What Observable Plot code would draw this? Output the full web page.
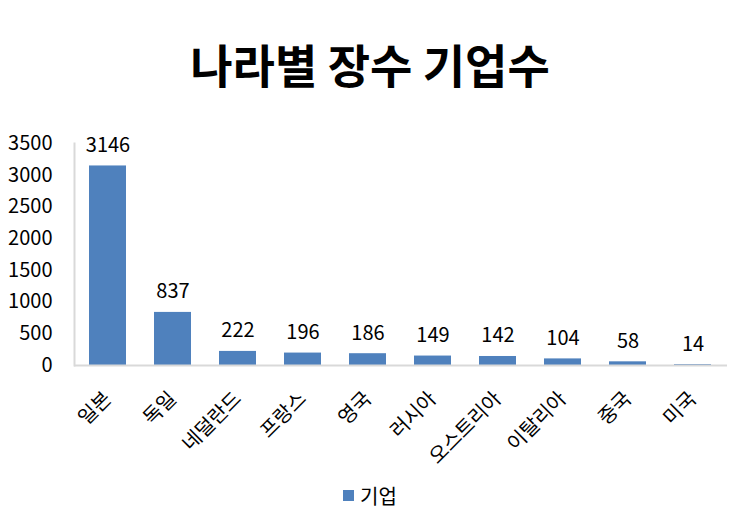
<!DOCTYPE html>
<html><head><meta charset="utf-8">
<script src="https://cdn.jsdelivr.net/npm/d3@7"></script>
<script src="https://cdn.jsdelivr.net/npm/@observablehq/plot@0.6"></script>
<style>
body{margin:0;background:#fff;font-family:"Noto Sans CJK KR","Noto Sans",sans-serif;width:740px;height:526px;overflow:hidden}
#title{height:110px;box-sizing:border-box;padding-top:28px;text-align:center;font-size:46px;font-weight:bold;color:#000;line-height:70px}
#legend{height:56px;display:flex;justify-content:center;align-items:center;font-size:20px;color:#000;padding-bottom:6px;box-sizing:border-box}
#legend span.sw{display:inline-block;width:11px;height:11px;background:#4F81BD;margin-right:6px}
</style></head>
<body>
<div id="title">나라별 장수 기업수</div>
<div id="chart"></div>
<div id="legend"><span class="sw"></span><span>기업</span></div>
<script>
const countries = ["일본","독일","네덜란드","프랑스","영국","러시아","오스트리아","이탈리아","중국","미국"];
const values = [3146,837,222,196,186,149,142,104,58,14];
const yTicks = [0,500,1000,1500,2000,2500,3000,3500];
const seriesName = "기업";

const data = countries.map((c,i)=>({country:c, value:values[i]}));

const chart = Plot.plot({
  width: 740,
  height: 360,
  marginTop: 33,
  marginBottom: 105,
  marginLeft: 74,
  marginRight: 13,
  style: {fontFamily: '"Noto Sans CJK KR","Noto Sans",sans-serif', fontSize: "20px", color: "#000", background: "#fff"},
  x: {domain: countries, paddingInner: 0.43, paddingOuter: 0.215, align: 0.5},
  y: {domain: [0,3500]},
  marks: [
    Plot.barY(data, {x:"country", y:"value", fill:"#4F81BD"}),
    Plot.text(data, {x:"country", y:"value", text:d=>String(d.value), lineAnchor:"bottom", dy:-14, fontSize:20, fill:"#000"}),
    Plot.frame({anchor:"left", stroke:"#d9d9d9", strokeWidth:2}),
    Plot.ruleY([0], {stroke:"#d9d9d9", strokeWidth:2}),
    Plot.axisY({ticks: yTicks, tickFormat: d=>String(d), tickSize:0, tickPadding:22, label:null, fontSize:20}),
    Plot.axisX({tickSize:0, tickPadding:30, tickRotate:-45, label:null, fontSize:20})
  ]
});
document.getElementById("chart").appendChild(chart);
</script>
</body></html>
